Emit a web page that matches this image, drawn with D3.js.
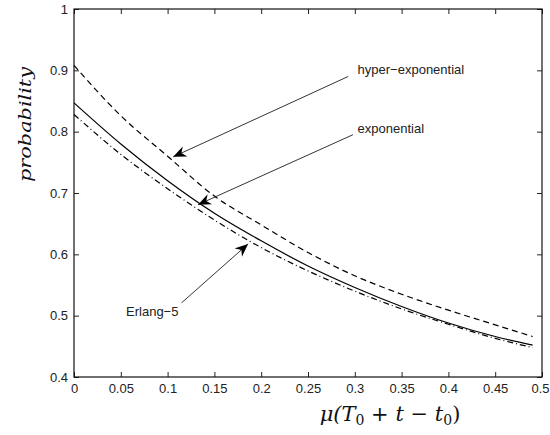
<!DOCTYPE html>
<html>
<head>
<meta charset="utf-8">
<script src="https://cdn.jsdelivr.net/npm/d3@7"></script>
<style>
  body { margin: 0; background: #fff; }
  .tick text { font-family: "Liberation Sans", Arial, sans-serif; font-size: 13px; fill: #222; }
  .note { font-family: "Liberation Sans", Arial, sans-serif; font-size: 13px; fill: #222; }
  .label { font-family: "DejaVu Serif", "Liberation Serif", serif; font-style: italic; fill: #111; }
</style>
</head>
<body>
<svg id="chart"></svg>
<script>
const xs = [0, 0.05, 0.1, 0.15, 0.2, 0.25, 0.3, 0.35, 0.4, 0.45, 0.49];
const hyperExp = [0.908, 0.826, 0.760, 0.695, 0.648, 0.603, 0.565, 0.535, 0.509, 0.485, 0.466];
const expo = [0.847, 0.780, 0.720, 0.667, 0.622, 0.581, 0.546, 0.515, 0.488, 0.466, 0.452];
const erlang5 = [0.828, 0.763, 0.707, 0.656, 0.611, 0.573, 0.540, 0.511, 0.486, 0.463, 0.448];

const xTicks = [0, 0.05, 0.1, 0.15, 0.2, 0.25, 0.3, 0.35, 0.4, 0.45, 0.5];
const yTicks = [0.4, 0.5, 0.6, 0.7, 0.8, 0.9, 1];

// annotation: text anchor, arrow tail, arrow tip (data units)
const notes = [
  {text: 'hyper\u2212exponential', tx: 0.303, ty: 0.901, x0: 0.293, y0: 0.890, x1: 0.106, y1: 0.759},
  {text: 'exponential', tx: 0.303, ty: 0.806, x0: 0.298, y0: 0.795, x1: 0.1325, y1: 0.681},
  {text: 'Erlang\u22125', tx: 0.0556, ty: 0.5065, x0: 0.115, y0: 0.521, x1: 0.186, y1: 0.617}
];

const fullWidth = 550;
const fullHeight = 435;
const margin = {top: 9, right: 8, bottom: 58, left: 74};
const width = fullWidth - margin.left - margin.right;
const height = fullHeight - margin.top - margin.bottom;

const xScale = d3.scaleLinear().domain([0, 0.5]).range([0, width]);
const yScale = d3.scaleLinear().domain([0.4, 1]).range([height, 0]);

const svg = d3.select('#chart')
  .attr('width', fullWidth)
  .attr('height', fullHeight);

const defs = svg.append('defs');
defs.append('marker')
  .attr('id', 'head')
  .attr('viewBox', '0 -6 14 12')
  .attr('refX', 13)
  .attr('refY', 0)
  .attr('markerWidth', 14)
  .attr('markerHeight', 12)
  .attr('markerUnits', 'userSpaceOnUse')
  .attr('orient', 'auto')
  .append('path')
  .attr('d', 'M0,-5.5L13,0L0,5.5L4,0Z')
  .attr('fill', '#000');

const g = svg.append('g')
  .attr('transform', `translate(${margin.left}, ${margin.top})`);

const fmt = d => d3.format('')(+d.toFixed(2));

const tick = 5;
const gx = g.append('g')
  .attr('transform', `translate(0, ${height})`)
  .call(d3.axisBottom(xScale).tickValues(xTicks).tickFormat(fmt).tickSizeInner(-tick).tickSizeOuter(0).tickPadding(7));
// last label sits at the right edge of the page, keep it inside
gx.selectAll('.tick text').filter(d => d === 0.5)
  .attr('text-anchor', 'end')
  .attr('x', fullWidth - 1 - margin.left - width);
g.append('g')
  .call(d3.axisTop(xScale).tickValues(xTicks).tickFormat('').tickSizeInner(-tick).tickSizeOuter(0));
g.append('g')
  .call(d3.axisLeft(yScale).tickValues(yTicks).tickFormat(fmt).tickSizeInner(-tick).tickSizeOuter(0).tickPadding(6));
g.append('g')
  .attr('transform', `translate(${width}, 0)`)
  .call(d3.axisRight(yScale).tickValues(yTicks).tickFormat('').tickSizeInner(-tick).tickSizeOuter(0));

g.selectAll('.domain').remove();
g.selectAll('.tick line').attr('stroke', '#222');

g.append('rect')
  .attr('width', width)
  .attr('height', height)
  .attr('fill', 'none')
  .attr('stroke', '#111')
  .attr('stroke-width', 1.2);

const line = d3.line()
  .x((d, i) => xScale(xs[i]))
  .y(d => yScale(d))
  .curve(d3.curveMonotoneX);

const series = [
  {values: hyperExp, dash: '6,4'},
  {values: expo, dash: null},
  {values: erlang5, dash: '6,3,1,3'}
];

g.selectAll('.series')
  .data(series)
  .enter().append('path')
  .attr('class', 'series')
  .attr('d', d => line(d.values))
  .attr('fill', 'none')
  .attr('stroke', '#000')
  .attr('stroke-width', 1.2)
  .attr('stroke-dasharray', d => d.dash);

g.selectAll('.arrow')
  .data(notes)
  .enter().append('line')
  .attr('class', 'arrow')
  .attr('x1', d => xScale(d.x0))
  .attr('y1', d => yScale(d.y0))
  .attr('x2', d => xScale(d.x1))
  .attr('y2', d => yScale(d.y1))
  .attr('stroke', '#000')
  .attr('stroke-width', 0.8)
  .attr('marker-end', 'url(#head)');

g.selectAll('.note')
  .data(notes)
  .enter().append('text')
  .attr('class', 'note')
  .attr('x', d => xScale(d.tx))
  .attr('y', d => yScale(d.ty))
  .attr('dy', '0.35em')
  .text(d => d.text);

svg.append('text')
  .attr('class', 'label')
  .attr('transform', 'translate(31, 124.5) rotate(-90)')
  .attr('text-anchor', 'middle')
  .attr('font-size', 17)
  .attr('textLength', 115)
  .attr('lengthAdjust', 'spacingAndGlyphs')
  .text('probability');

const xl = svg.append('text')
  .attr('class', 'label')
  .attr('x', 390)
  .attr('y', 421)
  .attr('text-anchor', 'middle')
  .attr('font-size', 21);
xl.append('tspan').text('\u03BC(');
xl.append('tspan').text('T');
xl.append('tspan').attr('font-size', 14).attr('dy', 4).attr('font-style', 'normal').text('0');
xl.append('tspan').attr('dy', -4).attr('font-style', 'normal').text(' + ');
xl.append('tspan').text('t');
xl.append('tspan').attr('font-style', 'normal').text(' \u2212 ');
xl.append('tspan').text('t');
xl.append('tspan').attr('font-size', 14).attr('dy', 4).attr('font-style', 'normal').text('0');
xl.append('tspan').attr('dy', -4).attr('font-style', 'normal').text(')');
</script>
</body>
</html>
